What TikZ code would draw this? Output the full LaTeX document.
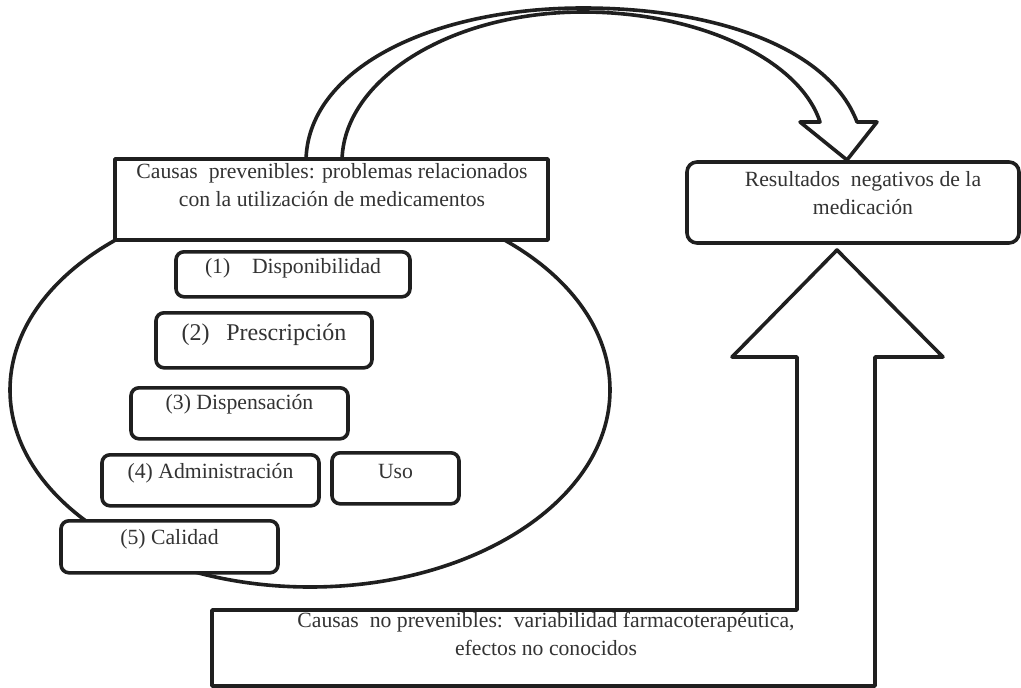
\documentclass[tikz,border=0pt]{standalone}
\usepackage{fontspec}
\setmainfont{Liberation Serif}
\usetikzlibrary{calc}
\begin{document}
\begin{tikzpicture}[x=1pt,y=-1pt,
  line/.style={draw=black!88, line width=3.6pt, line join=round},
  sqbox/.style={line, fill=white, rectangle, inner sep=0pt},
  rbox/.style={line, fill=white, rectangle, rounded corners=8pt, inner sep=0pt,
    text=black!80, font=\fontsize{21.7}{28}\selectfont},
  txt/.style={text=black!80, font=\fontsize{21.7}{28}\selectfont, inner sep=0pt, align=center}]
\useasboundingbox (0,0) rectangle (1021,688);

% ellipse grouping the preventable causes
\draw[line, fill=white] (310,390) ellipse [x radius=300pt, y radius=197pt];

% curved block arrow from the preventable causes to the results
\draw[line, fill=white]
  (306,162) .. controls (306,70) and (430,8) .. (583,8)
  .. controls (720,8) and (830,50) .. (857,122)
  -- (877,122) -- (847,160) -- (800,122) -- (820,122)
  .. controls (800,60) and (700,12) .. (583,12)
  .. controls (450,12) and (342,80) .. (342,162) -- cycle;

% bent-up block arrow from the non-preventable causes
\draw[line, fill=white]
  (212,610) -- (797,610) -- (797,357) -- (732,357) -- (837,250)
  -- (943,357) -- (875,357) -- (875,686) -- (212,686) -- cycle;

% main boxes
\node[sqbox, minimum width=433pt, minimum height=81pt] (prev) at (331.5,199.5) {};
\node[txt, anchor=base] (prevtxt) at (332,206)
  {Causas\ \ prevenibles: problemas relacionados\\con la utilización de medicamentos};

\node[sqbox, rounded corners=10pt, minimum width=332pt, minimum height=81pt] (res) at (853,202.5) {};
\node[txt, anchor=base] (restxt) at (863,214)
  {Resultados\ \ negativos de la\\medicación};

\node[txt, anchor=base] (noprevtxt) at (546,655)
  {Causas\ \ no prevenibles:\ \ variabilidad farmacoterapéutica,\\efectos no conocidos};

% inner boxes
\node[rbox, anchor=north, minimum width=234pt, text height=22pt, text depth=23pt] (d1) at (293,250)
  {(1)\quad Disponibilidad};
\node[rbox, anchor=north, minimum width=216pt, text height=28pt, text depth=27pt,
  font=\fontsize{24}{30}\selectfont] (d2) at (264,311)
  {(2)\hspace{0.7em}Prescripción};
\node[rbox, anchor=north, minimum width=217pt, text height=22pt, text depth=29pt] (d3) at (239.5,386)
  {(3) Dispensación};
\node[rbox, anchor=north, minimum width=217pt, text height=24pt, text depth=27pt] (d4) at (210.5,453)
  {(4) Administración};
\node[rbox, anchor=north, minimum width=127pt, text height=26pt, text depth=25pt] (uso) at (395.5,451)
  {Uso};
\node[rbox, anchor=north, minimum width=217pt, text height=24pt, text depth=28pt] (d5) at (169.5,519)
  {(5) Calidad};
\end{tikzpicture}
\end{document}
